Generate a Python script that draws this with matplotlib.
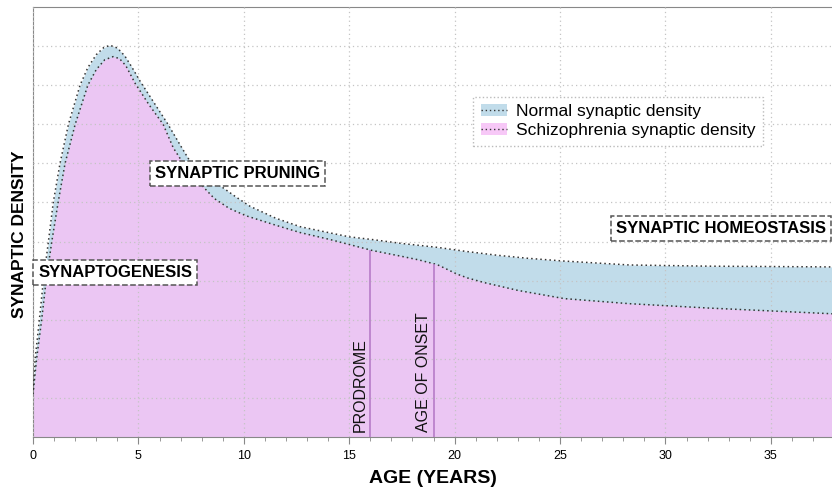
import matplotlib.pyplot as plt
from matplotlib.patches import Patch
from matplotlib.lines import Line2D

plt.rcParams["font.family"] = ["Liberation Sans", "DejaVu Sans"]

# valores
normal_age = [0, 0.1, 0.3, 0.49, 0.73, 0.96, 1.28, 1.68, 2.23, 2.6, 3.0, 3.35, 3.65, 4.0, 4.35,
              4.7, 5.08, 5.8, 6.4, 7.0, 7.45, 8.0, 8.5, 9.0, 9.6, 10.3, 11.5, 12.67, 14.1,
              15.0, 16.1, 17.5, 19.2, 20.5, 22.0, 23.5, 25.2, 28.3, 32.0, 38.0]
normal_density = [1.2, 2.0, 3.0, 4.0, 5.0, 6.0, 7.0, 8.0, 9.0, 9.45, 9.78, 9.96, 10.02, 9.95, 9.75,
                  9.45, 9.1, 8.5, 8.0, 7.45, 7.05, 6.75, 6.55, 6.38, 6.15, 5.9, 5.6, 5.38, 5.22,
                  5.12, 5.05, 4.95, 4.85, 4.75, 4.65, 4.57, 4.5, 4.4, 4.37, 4.35]

schizo_age = [0, 0.17, 0.41, 0.62, 0.89, 1.19, 1.52, 2.0, 2.6, 3.0, 3.4, 3.8, 4.1, 4.4, 4.84,
              5.5, 6.17, 6.65, 7.3, 7.75, 8.16, 8.6, 9.3, 10.1, 11.5, 12.67, 14.1,
              16.1, 17.5, 18.3, 19.17, 19.6, 20.1, 20.6, 21.4, 23.0, 25.2, 28.3, 32.0, 38.0]
schizo_density = [1.1, 2.0, 3.0, 4.0, 5.0, 6.0, 7.0, 8.0, 9.0, 9.4, 9.65, 9.73, 9.68, 9.5, 9.05,
                  8.5, 8.0, 7.4, 6.85, 6.6, 6.35, 6.1, 5.85, 5.66, 5.42, 5.23, 5.05,
                  4.77, 4.62, 4.53, 4.41, 4.3, 4.17, 4.07, 3.95, 3.75, 3.54, 3.41, 3.3, 3.15]

marker_ages = [16, 19]
marker_heights = [4.77, 4.41]
marker_labels = ["PRODROME", "AGE OF ONSET"]

stages = ["SYNAPTOGENESIS", "SYNAPTIC PRUNING", "SYNAPTIC HOMEOSTASIS"]
stage_pos = [(3.9, 4.2), (9.7, 6.74), (32.65, 5.33)]

BLUE = "#c1dcea"
PINK = "#ebc6f3"
LINE_PURPLE = "#b77cc8"


def plot_density():
    fig = plt.figure(figsize=(8.32, 4.88), dpi=100)
    ax = fig.add_axes([0.0397, 0.1045, 0.9603, 0.8812])

    ax.fill_between(normal_age, normal_density, color=BLUE, lw=0, zorder=1)
    ax.fill_between(schizo_age, schizo_density, color=PINK, lw=0, zorder=2)
    ax.plot(normal_age, normal_density, color="#333333", ls=(0, (1, 2)), lw=1.1, zorder=4)
    ax.plot(schizo_age, schizo_density, color="#333333", ls=(0, (1, 2)), lw=1.1, zorder=4)

    # lineas de prodromo y inicio
    for age, h, lab in zip(marker_ages, marker_heights, marker_labels):
        ax.plot([age, age], [0, h], color=LINE_PURPLE, lw=1.2, zorder=5)
        ax.text(age - 0.12, 0.12, lab, rotation=90, ha="right", va="bottom",
                fontsize=11.5, color="#111111", zorder=6)

    box = dict(boxstyle="square,pad=0.3", fc="white", ec="#555555", ls="--", lw=1.1)
    for name, (x, y) in zip(stages, stage_pos):
        ax.text(x, y, name, ha="center", va="center", fontsize=12, fontweight="bold",
                bbox=box, zorder=7)

    ax.set_xlim(0, 37.9)
    ax.set_ylim(0, 11)
    ax.set_xticks(range(0, 36, 5))
    ax.set_xticks(range(0, 38), minor=True)
    ax.set_yticks(range(1, 11))
    ax.set_yticklabels([])
    ax.tick_params(axis="y", length=0)
    ax.tick_params(axis="x", which="major", length=5, color="#888888", labelsize=9, pad=4)
    ax.tick_params(axis="x", which="minor", length=3, color="#888888")
    ax.grid(True, which="major", color="#c4c4c4", ls=(0, (1, 2.5)), lw=0.9, zorder=3)
    ax.set_axisbelow(False)
    for side in ["left", "bottom", "top"]:
        ax.spines[side].set_color("#888888")
    ax.spines["right"].set_visible(False)

    ax.set_xlabel("AGE (YEARS)", fontsize=14, fontweight="bold", labelpad=6)
    ax.set_ylabel("SYNAPTIC DENSITY", fontsize=12.5, fontweight="bold")
    ax.yaxis.set_label_coords(-0.008, 0.472)

    h_normal = (Patch(fc=BLUE, ec="none"), Line2D([], [], color="#333333", ls=(0, (1, 2)), lw=1))
    h_schizo = (Patch(fc="#f7c8f7", ec="none"), Line2D([], [], color="#333333", ls=(0, (1, 2)), lw=1))
    leg = ax.legend([h_normal, h_schizo], ["Normal synaptic density", "Schizophrenia synaptic density"],
                    loc="upper left", bbox_to_anchor=(0.54, 0.812), fontsize=12.5,
                    fancybox=False, framealpha=1, handlelength=1.5, handletextpad=0.5,
                    borderpad=0.45, labelspacing=0.2)
    leg.get_frame().set_edgecolor("#bbbbbb")
    leg.get_frame().set_linestyle(":")
    leg.set_zorder(8)

    fig.savefig("out.png", dpi=100)


def main():
    plot_density()


if __name__ == "__main__":
    main()
